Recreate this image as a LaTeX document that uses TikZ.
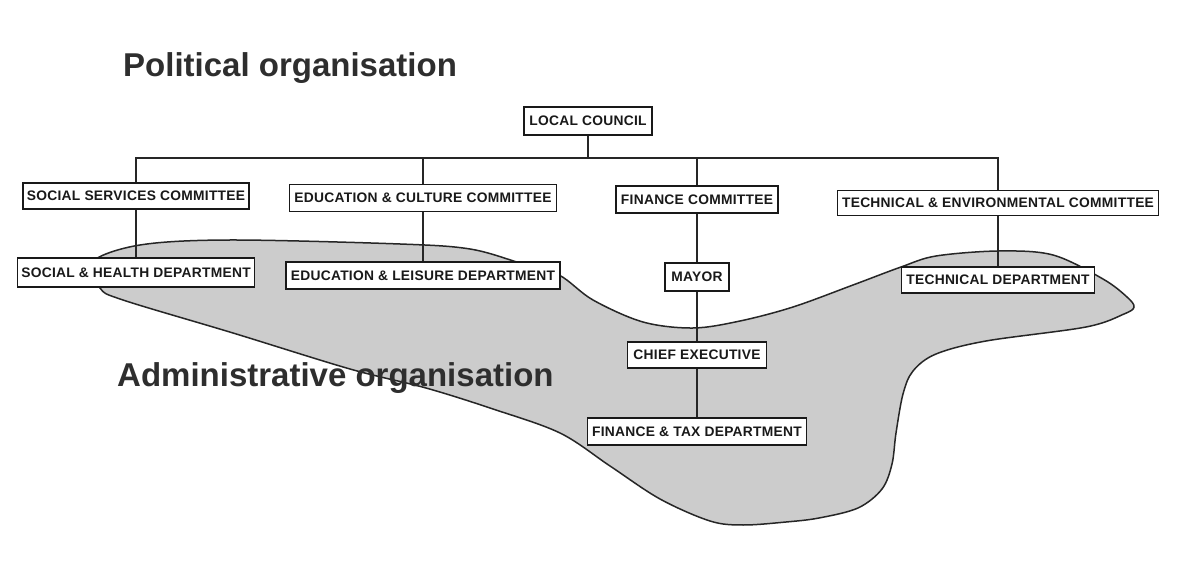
\documentclass[tikz,border=0pt]{standalone}
\usepackage{fontspec}
\setmainfont{Liberation Sans}
\newfontfamily\titlefont{Liberation Sans}
\newfontfamily\boxfont{Liberation Sans}[LetterSpace=2]
\pgfdeclarelayer{blob}
\pgfdeclarelayer{lines}
\pgfsetlayers{blob,lines,main}
\tikzset{
  orgbox/.style={draw=black!90, line width=1.6pt, fill=white, inner sep=1.5pt,
    minimum height=26pt, font=\boxfont\fontsize{13.8}{15}\selectfont\bfseries, text=black!90},
  conn/.style={draw=black!85, line width=1.2pt},
  titletext/.style={anchor=base west, inner sep=0pt, font=\titlefont\fontsize{33}{38}\selectfont\bfseries, text=black!82},
  blobstyle/.style={draw=black!85, line width=1.5pt, fill=black!20}
}
\begin{document}
\begin{tikzpicture}[x=1pt,y=-1pt]
\useasboundingbox (0,0) rectangle (1186,561);
\begin{pgfonlayer}{blob}
\fill[white] (0,0) rectangle (1186,561);
\end{pgfonlayer}

% titles
\node[titletext] (pol) at (123,77) {Political organisation};

% boxes
\node[orgbox, minimum width=128pt, minimum height=28pt] (lc) at (588,121) {LOCAL COUNCIL};
\node[orgbox, minimum width=226pt] (ssc) at (136,196) {SOCIAL SERVICES COMMITTEE};
\node[orgbox, minimum width=267pt, minimum height=27pt] (ecc) at (423,198) {EDUCATION \& CULTURE COMMITTEE};
\node[orgbox, minimum width=162pt, minimum height=27pt] (fc) at (697,199.5) {FINANCE COMMITTEE};
\node[orgbox, minimum width=321pt, minimum height=25pt] (tec) at (998,203) {TECHNICAL \& ENVIRONMENTAL COMMITTEE};
\node[orgbox, minimum width=237pt, minimum height=29pt] (shd) at (136,272.5) {SOCIAL \& HEALTH DEPARTMENT};
\node[orgbox, minimum width=274pt, minimum height=27pt] (eld) at (423,275.5) {EDUCATION \& LEISURE DEPARTMENT};
\node[orgbox, minimum width=64pt, minimum height=28pt] (mayor) at (697,277) {MAYOR};
\node[orgbox, minimum width=193pt] (td) at (998,280) {TECHNICAL DEPARTMENT};
\node[orgbox, minimum width=139pt] (ce) at (697,355) {CHIEF EXECUTIVE};
\node[orgbox, minimum width=219pt, minimum height=27pt] (ftd) at (697,431.5) {FINANCE \& TAX DEPARTMENT};

\node[titletext] (adm) at (117,386) {Administrative organisation};

\coordinate (busL) at (136,158);

% connectors
\begin{pgfonlayer}{lines}
\draw[conn] (shd.north) |- (td.north |- busL) -- (td.north);
\draw[conn] (lc.south) -- (lc.south |- busL);
\draw[conn] (eld.north) -- (eld.north |- busL);
\draw[conn] (mayor.north) -- (mayor.north |- busL);
\draw[conn] (mayor.south) -- (ce.north);
\draw[conn] (ce.south) -- (ftd.north);
\end{pgfonlayer}

% shaded administrative area
\begin{pgfonlayer}{blob}
\draw[blobstyle] plot[smooth cycle, tension=0.55] coordinates {
 (92,262) (140,245) (230,240) (400,244) (470,249) (520,263) (559,275) (593,300)
 (643,322) (693,328) (740,321) (793,307) (853,285) (901,267) (936,256) (999,251)
 (1053,255) (1103,279) (1127,297) (1134,307) (1124,314) (1086,327) (986,341)
 (936,354) (913,371) (903,394) (896,433) (892,464) (882,489) (858,508) (819,518)
 (786,522) (743,525) (710,521) (660,499) (610,466) (560,433) (493,409) (426,388)
 (350,369) (233,333) (123,300) (100,288)
};
\end{pgfonlayer}
\end{tikzpicture}
\end{document}
